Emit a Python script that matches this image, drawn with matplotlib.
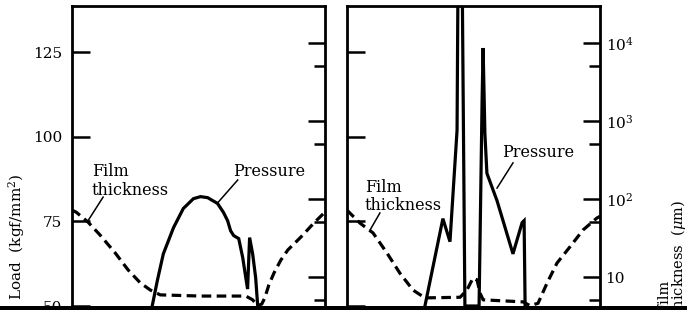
import matplotlib.pyplot as plt
import numpy as np
from matplotlib.patches import Rectangle
from matplotlib.ticker import FixedLocator, FixedFormatter, LogLocator, NullFormatter

plt.rcParams['font.family'] = ['DejaVu Serif']
plt.rcParams['mathtext.fontset'] = 'dejavuserif'

# Left panel: film thickness (um, log axis) and pressure (kgf/mm2)
left_film_x = [0, 1.6, 6.3, 11.1, 17.1, 22.2, 27.0, 31.0, 34.9, 50.8, 68.7, 71.4, 73.4, 75.0,
               76.2, 77.8, 79.8, 82.5, 85.3, 90.5, 95.6, 100]
left_film_h = [72, 68, 50.7, 34.5, 20.3, 12.3, 8.4, 6.8, 5.9, 5.7, 5.7, 5.1, 4.3, 4.5,
               5.4, 7.9, 11.2, 16.4, 22.2, 32.6, 49.2, 68]
left_press_x = [31.7, 33.7, 36.1, 40.1, 44.0, 48.0, 50.8, 53.6, 57.5, 59.9, 61.5, 62.7, 63.9,
                65.9, 67.5, 68.7, 69.4, 70.2, 71.4, 72.6, 73.4]
left_press_p = [50, 57.4, 65.4, 73.1, 78.8, 81.7, 82.3, 82.0, 80.3, 77.6, 75.2, 72.2, 70.8,
                69.9, 64.2, 58.3, 55.0, 70.2, 65.4, 58.3, 50]

# Right panel
right_film_x = [0, 5.1, 10.3, 15.8, 20.9, 26.1, 30.8, 44.7, 47.4, 49.8, 51.4, 52.6, 53.8,
                69.6, 72.3, 75.5, 79.1, 83.0, 88.1, 93.3, 98.8, 100]
right_film_h = [72, 49.2, 36.7, 20.3, 11.2, 6.8, 5.4, 5.5, 6.8, 9.7, 9.2, 6.2, 5.1,
                4.8, 4.3, 4.6, 8.4, 15.1, 24.3, 40.1, 57.1, 60]
right_press_x = [30.8, 37.9, 40.7, 43.5, 43.9, 45.5, 46.6, 52.2, 53.4, 53.8, 54.5, 55.3,
                 59.3, 65.6, 69.2, 70.0, 70.4]
right_press_p = [50, 75.8, 69.0, 101.9, 150, 150, 50, 50, 110.8, 126.2, 101.0, 89.2,
                 81.1, 65.4, 74.6, 75.2, 50]

load_ticks = [50, 75, 100, 125]
load_labels = ['50', '75', '100', '125']
film_ticks = [10, 100, 1000, 10000]
film_labels = ['10', '10$^2$', '10$^3$', '10$^4$']

W, H = 687, 318
fig = plt.figure(figsize=(W / 100, H / 100), dpi=100)


def make_panel(x0px, label_left, label_right):
    ax = fig.add_axes([x0px / W, 12 / H, 253 / W, 300 / H])
    axt = ax.twinx()
    ax.set_xlim(0, 100)
    ax.set_ylim(50, 138.6)
    axt.set_yscale('log')
    axt.set_ylim(4.25, 29800)
    ax.set_xticks([])
    for a in (ax, axt):
        for s in a.spines.values():
            s.set_linewidth(2.0)
        a.spines['bottom'].set_visible(False)
    ax.spines['right'].set_visible(False)
    axt.spines['left'].set_visible(False)
    axt.spines['top'].set_visible(False)
    ax.yaxis.set_major_locator(FixedLocator(load_ticks))
    ax.yaxis.set_major_formatter(FixedFormatter(load_labels))
    ax.tick_params(axis='y', direction='in', length=13, width=1.8, labelsize=11,
                   pad=7, labelleft=label_left)
    axt.yaxis.set_major_locator(FixedLocator(film_ticks))
    axt.yaxis.set_major_formatter(FixedFormatter(film_labels))
    axt.yaxis.set_minor_locator(LogLocator(base=10, subs=[5]))
    axt.yaxis.set_minor_formatter(NullFormatter())
    axt.tick_params(axis='y', which='major', direction='in', length=12, width=1.8,
                    labelsize=11, pad=4, labelright=label_right)
    axt.tick_params(axis='y', which='minor', direction='in', length=8, width=1.8)
    return ax, axt


axL, axLt = make_panel(72, True, False)
axR, axRt = make_panel(347, False, True)

dash = (0, (3, 1.7))
axLt.plot(left_film_x, left_film_h, color='black', lw=2.3, linestyle=dash)
axL.plot(left_press_x, left_press_p, color='black', lw=2.3, solid_joinstyle='miter')
axRt.plot(right_film_x, right_film_h, color='black', lw=2.3, linestyle=dash)
axR.plot(right_press_x, right_press_p, color='black', lw=2.3, solid_joinstyle='miter')

# labels with leader lines
lab = dict(fontsize=11.5, ha='left', va='top', linespacing=1.1)
axL.text(0.079, 0.475, 'Film\nthickness', transform=axL.transAxes, **lab)
axL.plot([0.123, 0.060], [0.363, 0.28], color='black', lw=1.1, transform=axL.transAxes)
axL.text(0.635, 0.475, 'Pressure', transform=axL.transAxes, **lab)
axL.plot([0.655, 0.579], [0.42, 0.347], color='black', lw=1.1, transform=axL.transAxes)

axR.text(0.071, 0.425, 'Film\nthickness', transform=axR.transAxes, **lab)
axR.plot([0.130, 0.091], [0.31, 0.253], color='black', lw=1.1, transform=axR.transAxes)
axR.text(0.613, 0.54, 'Pressure', transform=axR.transAxes, **lab)
axR.plot([0.656, 0.593], [0.477, 0.393], color='black', lw=1.1, transform=axR.transAxes)

fig.text(17 / W, (H - 237) / H, 'Load  (kgf/mm$^2$)', rotation=90, ha='center',
         va='center', fontsize=11)
fig.text(664 / W, 5 / H, 'Film', rotation=90, ha='center', va='bottom', fontsize=10.5)
fig.text(679 / W, 3 / H, 'thickness  ($\\mu$m)', rotation=90, ha='center', va='bottom',
         fontsize=10.5)

# bottom border of the scanned figure
fig.add_artist(Rectangle((0, 0), 1, 8 / H, transform=fig.transFigure,
                         facecolor='white', edgecolor='none', zorder=20))
fig.add_artist(Rectangle((0, 8 / H), 1, 4 / H, transform=fig.transFigure,
                         facecolor='black', edgecolor='none', zorder=21))

fig.savefig('out.png', dpi=100, facecolor='white')
